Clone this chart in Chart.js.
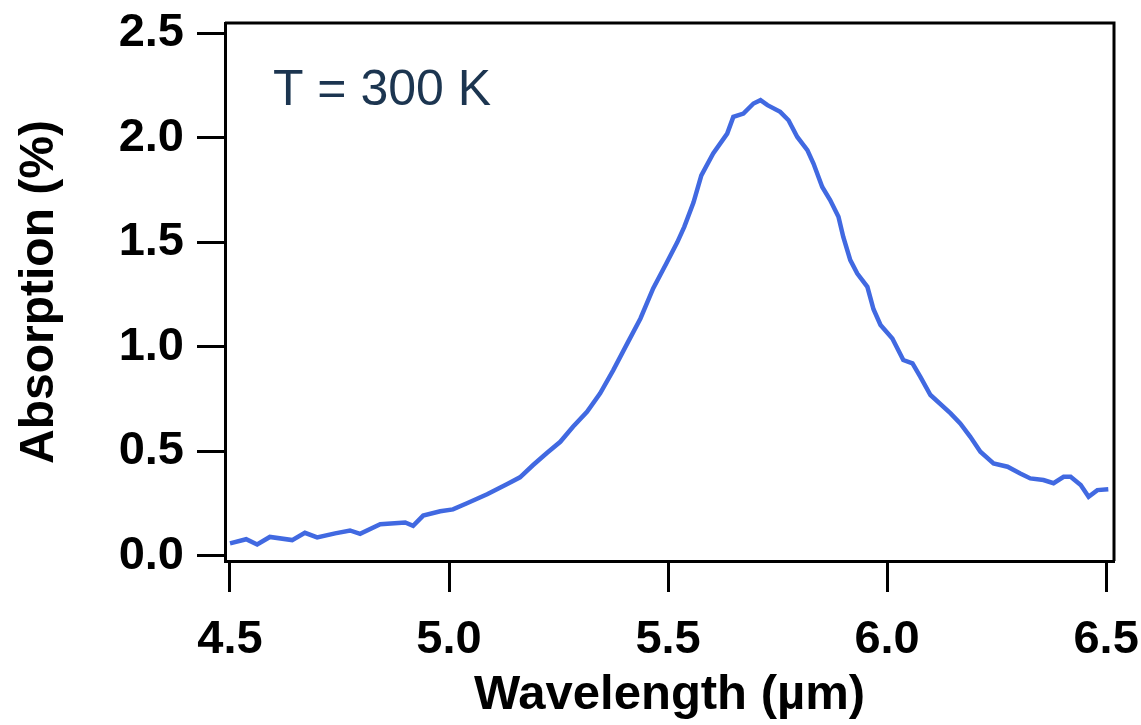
<!DOCTYPE html>
<html>
<head>
<meta charset="utf-8">
<script src="https://cdn.jsdelivr.net/npm/chart.js@4"></script>
<style>
  body { margin: 0; background: #fff; }
  #wrap { width: 1141px; height: 725px; }
</style>
</head>
<body>
<div id="wrap"><canvas id="absChart"></canvas></div>
<script>
// wavelength (um) and absorption (%)
var wavelength = [4.500, 4.537, 4.562, 4.591, 4.642, 4.671, 4.699, 4.740, 4.774, 4.797,
  4.843, 4.900, 4.918, 4.941, 4.980, 5.009, 5.041, 5.087, 5.133, 5.162,
  5.192, 5.224, 5.254, 5.283, 5.315, 5.345, 5.375, 5.407, 5.437, 5.466,
  5.496, 5.521, 5.537, 5.558, 5.576, 5.603, 5.635, 5.649, 5.672, 5.695,
  5.711, 5.727, 5.756, 5.775, 5.795, 5.818, 5.832, 5.852, 5.870, 5.889,
  5.900, 5.916, 5.932, 5.955, 5.969, 5.985, 6.012, 6.037, 6.058, 6.076,
  6.099, 6.145, 6.167, 6.190, 6.213, 6.243, 6.275, 6.304, 6.327, 6.357,
  6.380, 6.403, 6.419, 6.442, 6.460, 6.480, 6.505];
var absorption = [0.060, 0.080, 0.055, 0.091, 0.076, 0.111, 0.089, 0.108, 0.122, 0.106,
  0.152, 0.160, 0.144, 0.193, 0.214, 0.223, 0.252, 0.295, 0.344, 0.376,
  0.435, 0.494, 0.546, 0.618, 0.690, 0.778, 0.889, 1.017, 1.136, 1.280,
  1.399, 1.500, 1.574, 1.690, 1.820, 1.925, 2.020, 2.100, 2.116, 2.164,
  2.180, 2.156, 2.124, 2.084, 2.004, 1.941, 1.877, 1.765, 1.702, 1.622,
  1.526, 1.415, 1.351, 1.287, 1.180, 1.105, 1.040, 0.937, 0.921, 0.857,
  0.770, 0.682, 0.634, 0.570, 0.499, 0.443, 0.427, 0.395, 0.371, 0.363,
  0.348, 0.379, 0.379, 0.339, 0.283, 0.315, 0.319];
var xTicks = [4.5, 5.0, 5.5, 6.0, 6.5];
var yTicks = [0.0, 0.5, 1.0, 1.5, 2.0, 2.5];
var tempLabel = "T = 300 K";

var points = [];
for (var i = 0; i < wavelength.length; i++) {
  points.push({ x: wavelength[i], y: absorption[i] });
}

function noPad(s) {
  s.paddingTop = 0; s.paddingBottom = 0; s.paddingLeft = 0; s.paddingRight = 0;
}

// box round the plot area plus the temperature note
var frame = {
  id: 'frame',
  afterDraw: function (chart) {
    var ctx = chart.ctx, a = chart.chartArea;
    ctx.save();
    ctx.strokeStyle = '#000';
    ctx.lineWidth = 3;
    ctx.beginPath();
    ctx.moveTo(a.left, a.top);
    ctx.lineTo(a.right, a.top);
    ctx.lineTo(a.right, a.bottom);
    ctx.stroke();
    ctx.fillStyle = '#1c3550';
    ctx.font = '50px "Liberation Sans", Arial, sans-serif';
    ctx.textBaseline = 'alphabetic';
    ctx.fillText(tempLabel, chart.scales.x.getPixelForValue(4.598), chart.scales.y.getPixelForValue(2.156));
    ctx.restore();
  }
};

var ctxA = document.getElementById('absChart').getContext('2d');
var absChart = new Chart(ctxA, {
  type: 'scatter',
  data: {
    datasets: [{
      data: points,
      showLine: true,
      borderColor: 'rgb(65, 105, 225)',
      borderWidth: 4.5,
      pointRadius: 0,
      tension: 0
    }]
  },
  options: {
    responsive: true,
    maintainAspectRatio: false,
    animation: false,
    layout: { padding: { top: 23, right: 27, left: 0, bottom: 0 } },
    plugins: { legend: { display: false }, tooltip: { enabled: false } },
    scales: {
      x: {
        type: 'linear',
        min: 4.4886,
        max: 6.518,
        afterFit: function (s) { s.height = 164; noPad(s); },
        afterBuildTicks: function (s) { s.ticks = xTicks.map(function (v) { return { value: v }; }); },
        border: { display: true, color: '#000', width: 3 },
        grid: { drawOnChartArea: false, drawTicks: true, tickLength: 31, tickWidth: 3, tickColor: '#000' },
        ticks: {
          color: '#000', padding: 20, maxRotation: 0, autoSkip: false,
          font: { family: '"Liberation Sans", Arial, sans-serif', size: 47, weight: 'bold' },
          callback: function (v) { return v.toFixed(1); }
        },
        title: {
          display: true, text: 'Wavelength (µm)', color: '#000', padding: 0,
          font: { family: '"Liberation Sans", Arial, sans-serif', size: 49, weight: 'bold' }
        }
      },
      y: {
        type: 'linear',
        min: -0.024,
        max: 2.549,
        afterFit: function (s) { s.width = 225; noPad(s); },
        afterBuildTicks: function (s) { s.ticks = yTicks.map(function (v) { return { value: v }; }); },
        border: { display: true, color: '#000', width: 3 },
        grid: { drawOnChartArea: false, drawTicks: true, tickLength: 28, tickWidth: 3, tickColor: '#000' },
        ticks: {
          color: '#000', padding: 13,
          font: { family: '"Liberation Sans", Arial, sans-serif', size: 47, weight: 'bold' },
          callback: function (v) { return v.toFixed(1); }
        },
        title: {
          display: true, text: 'Absorption (%)', color: '#000', padding: { top: 11, bottom: 0 },
          font: { family: '"Liberation Sans", Arial, sans-serif', size: 48, weight: 'bold' }
        }
      }
    }
  },
  plugins: [frame]
});
</script>
</body>
</html>
